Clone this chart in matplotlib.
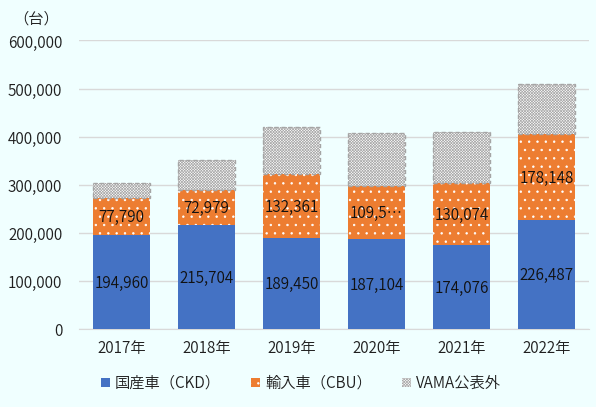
import matplotlib
matplotlib.use("Agg")
import matplotlib.pyplot as plt
import numpy as np
from matplotlib.patches import Patch

plt.rcParams['font.family'] = ['Noto Sans CJK JP', 'DejaVu Sans']
plt.rcParams['font.weight'] = 350
plt.rcParams['hatch.linewidth'] = 0.5

years = ['2017年', '2018年', '2019年', '2020年', '2021年', '2022年']
ckd = [194960, 215704, 189450, 187104, 174076, 226487]
cbu = [77790, 72979, 132361, 109542, 130074, 178148]
other = [31500, 62000, 98500, 111000, 105600, 105000]
cbu_labels = ['77,790', '72,979', '132,361', '109,5…', '130,074', '178,148']
ckd_labels = ['194,960', '215,704', '189,450', '187,104', '174,076', '226,487']
yticks = [0, 100000, 200000, 300000, 400000, 500000, 600000]

bg = '#F0FFFF'
blue = '#4472C4'
orange = '#ED7D31'
gray = '#A5A5A5'

fig = plt.figure(figsize=(5.96, 4.07), dpi=100, facecolor=bg)
ax = fig.add_axes([0.1326, 0.1916, 0.8554, 0.7089], facecolor=bg)

x = np.arange(len(years))
w = 0.67
ckd_a = np.array(ckd)
cbu_a = np.array(cbu)
oth_a = np.array(other)

ax.bar(x, ckd_a, w, color=blue, zorder=3)
ax.bar(x, cbu_a, w, bottom=ckd_a, color=orange, hatch='..', edgecolor='white', linewidth=0, zorder=3)
ax.bar(x, oth_a, w, bottom=ckd_a + cbu_a, facecolor='white', hatch='xxxxxxxxxxxx', edgecolor='#AAAAAA', linewidth=0, zorder=3)
ax.bar(x, oth_a, w, bottom=ckd_a + cbu_a, facecolor='none', edgecolor=gray, linewidth=1.0, linestyle=(0, (3, 2)), zorder=4)

for i in range(len(years)):
    ax.text(x[i], ckd_a[i] / 2, ckd_labels[i], ha='center', va='center', fontsize=11, color='#111111', zorder=5)
    ax.text(x[i], ckd_a[i] + cbu_a[i] / 2, cbu_labels[i], ha='center', va='center', fontsize=11, color='#111111', zorder=5)

ax.set_xlim(-0.5, len(years) - 0.5)
ax.set_ylim(0, 600000)
ax.set_yticks(yticks)
ax.set_yticklabels([f'{v:,}' for v in yticks])
ax.set_xticks(x)
ax.set_xticklabels(years)
ax.yaxis.grid(True, color='#D9D9D9', linewidth=1, zorder=0)
ax.set_axisbelow(True)
for s in ['top', 'right', 'left']:
    ax.spines[s].set_visible(False)
ax.spines['bottom'].set_color('#D9D9D9')
ax.tick_params(axis='both', length=0, labelsize=11, colors='#1f1f1f')
ax.tick_params(axis='y', pad=12)
ax.tick_params(axis='x', pad=8)

fig.text(0.022, 0.953, '（台）', fontsize=11, color='#1f1f1f', ha='left', va='center')

handles = [
    Patch(facecolor=blue, label='国産車（CKD）'),
    Patch(facecolor=orange, hatch='..', edgecolor='white', linewidth=0, label='輸入車（CBU）'),
    Patch(facecolor='white', hatch='xxxxxxxxxxxx', edgecolor='#AAAAAA', linewidth=0, label='VAMA公表外'),
]
fig.legend(handles=handles, loc='center', bbox_to_anchor=(0.505, 0.058), ncol=3, frameon=False,
           fontsize=11, handlelength=0.6, handleheight=0.6, columnspacing=2.0, handletextpad=0.3,
           labelcolor='#1f1f1f')

fig.savefig('out.png', dpi=100, facecolor=bg)
